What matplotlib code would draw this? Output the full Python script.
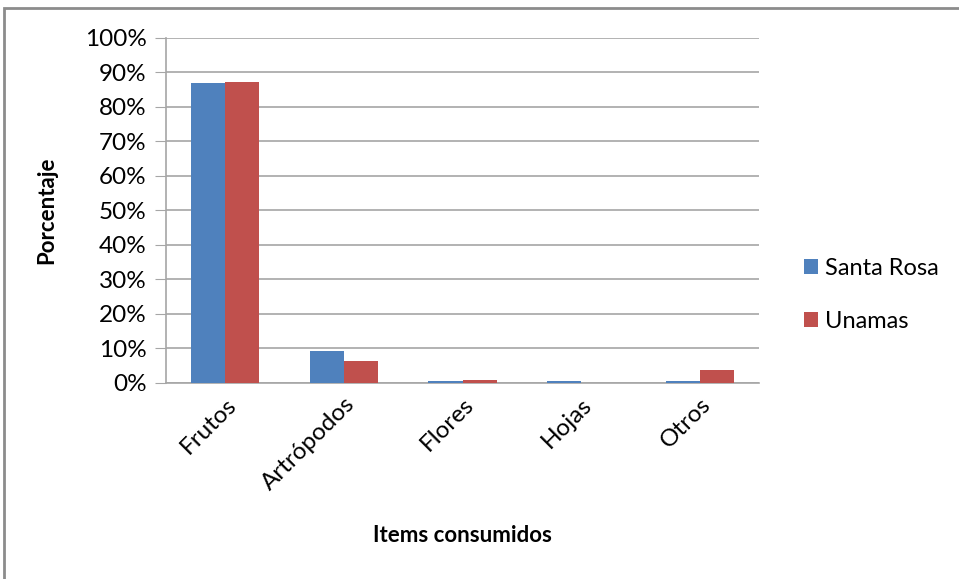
import matplotlib
matplotlib.use("Agg")
import matplotlib.pyplot as plt
import numpy as np
from matplotlib.ticker import FuncFormatter, MultipleLocator
from matplotlib.patches import Rectangle

categories = ["Frutos", "Artrópodos", "Flores", "Hojas", "Otros"]
santa_rosa = [0.869, 0.092, 0.003, 0.003, 0.003]
unamas = [0.872, 0.063, 0.007, 0.0, 0.037]
series_names = ["Santa Rosa", "Unamas"]
colors = ["#4F81BD", "#C0504D"]

plt.rcParams["font.family"] = ["Lato", "DejaVu Sans"]

fig = plt.figure(figsize=(9.59, 5.79), dpi=100)
W, H = 959, 579
ax = fig.add_axes([166 / W, 1 - 382.5 / H, (759 - 166) / W, (382.5 - 38) / H])

x = np.arange(len(categories))
bw = 0.287
ax.bar(x - bw / 2, santa_rosa, bw, color=colors[0], label=series_names[0], zorder=3)
ax.bar(x + bw / 2, unamas, bw, color=colors[1], label=series_names[1], zorder=3)

ax.set_xlim(-0.5, len(categories) - 0.5)
ax.set_ylim(0, 1.0)
ax.yaxis.set_major_locator(MultipleLocator(0.1))
ax.yaxis.set_major_formatter(FuncFormatter(lambda v, p: f"{v*100:.0f}%"))
ax.grid(axis="y", color="#A6A6A6", linewidth=1.2, zorder=0)
ax.set_axisbelow(True)

for s in ["top", "right"]:
    ax.spines[s].set_visible(False)
for s in ["left", "bottom"]:
    ax.spines[s].set_color("#A6A6A6")
    ax.spines[s].set_linewidth(1.2)

ax.tick_params(axis="y", length=8, color="#A6A6A6", labelsize=17.5, pad=6)
ax.tick_params(axis="x", length=0, labelsize=17.5, pad=8)
ax.set_xticks(x)
ax.set_xticklabels(categories, rotation=45, ha="right", rotation_mode="anchor")

ax.set_ylabel("Porcentaje", fontsize=16, fontweight="bold", labelpad=20)
ax.set_xlabel("Items consumidos", fontsize=16, fontweight="bold", labelpad=22)

leg = ax.legend(loc="center left", bbox_to_anchor=(1.04, 0.255), frameon=False,
                fontsize=17, handlelength=0.6, handleheight=0.6, handletextpad=0.3,
                labelspacing=1.35)

# outer chart border
fig.patches.append(Rectangle((4 / W, -0.1), 1.2, 1 - 8 / H + 0.1,
                             transform=fig.transFigure, fill=False,
                             edgecolor="#8C8C8C", linewidth=2))

fig.savefig("out.png", dpi=100)
